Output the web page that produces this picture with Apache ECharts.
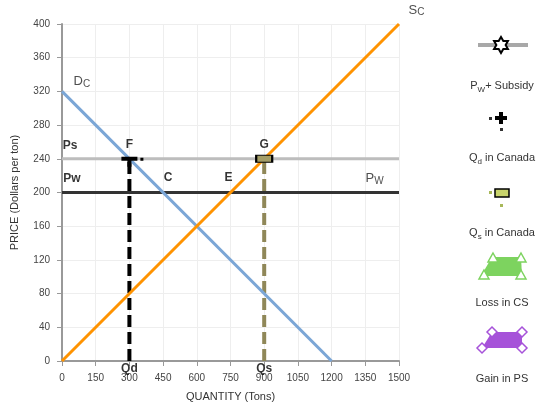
<!DOCTYPE html>
<html>
<head>
<meta charset="utf-8">
<script src="https://cdn.jsdelivr.net/npm/echarts@6/dist/echarts.min.js"></script>
<style>
  html, body { margin: 0; padding: 0; background: #fff; }
  #chart { width: 560px; height: 420px; }
</style>
</head>
<body>
<div id="chart"></div>
<script>
// data
const xTicks = [0, 150, 300, 450, 600, 750, 900, 1050, 1200, 1350, 1500];
const yTicks = [0, 40, 80, 120, 160, 200, 240, 280, 320, 360, 400];
const demand = [[0, 320], [1200, 0]];
const supply = [[0, 0], [1500, 400]];
const worldPrice = [[0, 200], [1500, 200]];
const subsidyPrice = [[0, 240], [1500, 240]];
const qdLine = [[300, 0], [300, 240]];
const qsLine = [[900, 0], [900, 240]];
// annotation points (data coords) and their text
const annoNames = ['Ps', 'F', 'Pw', 'C', 'E', 'G', 'Qd', 'Qs', 'Dc', 'Sc', 'PwR'];
const annoX = [0, 300, 0, 450, 750, 900, 300, 900, 0, 1500, 1400];
const annoY = [240, 240, 200, 200, 200, 240, 0, 0, 320, 400, 200];
const annoText = ['Ps', 'F', 'Pw', 'C', 'E', 'G', 'Qd', 'Qs', '{a|D}{s|C}', '{a|S}{s|C}', '{a|P}{s|W}'];

const chart = echarts.init(document.getElementById('chart'));

// label placement per annotation
const annoStyle = {
  Ps: { position: 'top', offset: [8, -2] },
  F: { position: 'top', offset: [0, -3] },
  Pw: { position: 'top', offset: [10, -2] },
  C: { position: 'top', offset: [5, -3] },
  E: { position: 'top', offset: [-2, -3] },
  G: { position: 'top', offset: [0, -3] },
  Qd: { position: 'bottom', offset: [0, -4] },
  Qs: { position: 'bottom', offset: [0, -4] },
  Dc: { position: 'right', offset: [6, -10], bold: false },
  Sc: { position: 'right', offset: [4, -14], bold: false },
  PwR: { position: 'top', offset: [-2, -1], bold: false }
};

const rich = {
  a: { fontSize: 13, color: '#222', lineHeight: 15, fontFamily: 'Liberation Sans' },
  s: { fontSize: 10, color: '#222', lineHeight: 15, verticalAlign: 'bottom', padding: [7, 0, 0, 0], fontFamily: 'Liberation Sans' }
};

const annoData = annoNames.map(function (n, i) {
  const st = annoStyle[n];
  return {
    value: [annoX[i], annoY[i]],
    label: {
      show: true,
      formatter: annoText[i],
      position: st.position,
      offset: st.offset,
      fontWeight: st.bold === false ? 'normal' : 'bold',
      fontSize: 12,
      color: '#000',
      fontFamily: 'Liberation Sans',
      rich: rich
    }
  };
});

function lineSeries(name, data, color, width, type, z) {
  return {
    name: name,
    type: 'line',
    data: data,
    symbol: 'none',
    z: z,
    lineStyle: { color: color, width: width, type: type || 'solid' },
    animation: false
  };
}

const qdSeries = lineSeries('Qd in Canada', qdLine, '#000', 4, [12, 5], 3);
qdSeries.markPoint = {
  symbol: 'path://M0,0 L16,0 L16,4 L10,4 L10,10 L6,10 L6,4 L0,4 Z M19,1 L22,1 L22,4 L19,4 Z',
  symbolSize: [22, 10],
  symbolOffset: [3, 3],
  itemStyle: { color: '#000' },
  label: { show: false },
  data: [{ coord: qdLine[1] }]
};

const qsSeries = lineSeries('Qs in Canada', qsLine, '#8F8758', 4, [12, 5], 3);
qsSeries.markPoint = {
  symbol: 'rect',
  symbolSize: [16, 7],
  itemStyle: { color: '#A39D67', borderColor: '#000', borderWidth: 1.5 },
  label: { show: false },
  data: [{ coord: qsLine[1] }]
};

const axisLabelStyle = { color: '#444', fontSize: 10, fontFamily: 'Liberation Sans', formatter: function (v) { return String(v); } };

// legend drawn by hand: icon above, text below
function star(cx, cy, r) {
  const pts = [];
  for (let i = 0; i < 12; i++) {
    const ang = Math.PI / 2 + i * Math.PI / 6;
    const rr = i % 2 === 0 ? r : r * 0.58;
    pts.push([cx + rr * Math.cos(ang), cy - rr * Math.sin(ang)]);
  }
  return pts;
}
function tri(cx, cy) {
  return { type: 'polygon', shape: { points: [[cx, cy - 5], [cx + 5, cy + 4], [cx - 5, cy + 4]] },
    style: { fill: '#fff', stroke: '#7DD35F', lineWidth: 1.5 } };
}
function dia(cx, cy) {
  return { type: 'polygon', shape: { points: [[cx, cy - 5], [cx + 5, cy], [cx, cy + 5], [cx - 5, cy]] },
    style: { fill: '#fff', stroke: '#A652D9', lineWidth: 1.5 } };
}
function legText(y, text) {
  return { type: 'text', x: 502, y: y, style: { text: text, align: 'center', verticalAlign: 'middle',
    fill: '#333', fontSize: 11, fontFamily: 'Liberation Sans', rich: {
      a: { fontSize: 11, fill: '#333', fontFamily: 'Liberation Sans' },
      s: { fontSize: 8, fill: '#333', fontFamily: 'Liberation Sans', verticalAlign: 'bottom', padding: [8, 0, 0, 0] }
    } } };
}

const legend = [
  { type: 'line', shape: { x1: 478, y1: 45, x2: 528, y2: 45 }, style: { stroke: '#A8A8A8', lineWidth: 4 } },
  { type: 'polygon', shape: { points: star(501, 45, 8) }, style: { fill: '#fff', stroke: '#000', lineWidth: 2 } },
  legText(86, '{a|P}{s|W}{a|+ Subsidy}'),
  { type: 'rect', shape: { x: 489, y: 117, width: 3, height: 3 }, style: { fill: '#333' } },
  { type: 'rect', shape: { x: 495, y: 116, width: 12, height: 4 }, style: { fill: '#000' } },
  { type: 'rect', shape: { x: 499, y: 112, width: 4, height: 12 }, style: { fill: '#000' } },
  { type: 'rect', shape: { x: 500, y: 128, width: 3, height: 3 }, style: { fill: '#333' } },
  legText(158, '{a|Q}{s|d}{a| in Canada}'),
  { type: 'rect', shape: { x: 489, y: 191, width: 3, height: 3 }, style: { fill: '#A8B85A' } },
  { type: 'rect', shape: { x: 495, y: 189, width: 14, height: 8 }, style: { fill: '#C9D46C', stroke: '#000', lineWidth: 1.5 } },
  { type: 'rect', shape: { x: 500, y: 204, width: 3, height: 3 }, style: { fill: '#A8B85A' } },
  legText(233, '{a|Q}{s|s}{a| in Canada}'),
  { type: 'polygon', shape: { points: [[492, 257], [521, 257], [522, 276], [481, 276]] }, style: { fill: '#7DD35F' } },
  tri(493, 258), tri(521, 258), tri(484, 275), tri(521, 275),
  legText(303, 'Loss in CS'),
  { type: 'polygon', shape: { points: [[492, 332], [522, 332], [522, 348], [482, 348]] }, style: { fill: '#A652D9' } },
  dia(492, 332), dia(522, 332), dia(482, 348), dia(522, 348),
  legText(379, 'Gain in PS')
];

chart.setOption({
  animation: false,
  backgroundColor: '#fff',
  grid: { left: 62, top: 24, right: 161, bottom: 59, outerBoundsMode: 'none', containLabel: false },
  xAxis: {
    type: 'value', min: xTicks[0], max: xTicks[xTicks.length - 1], interval: xTicks[1] - xTicks[0],
    name: 'QUANTITY (Tons)', nameLocation: 'middle', nameGap: 30,
    nameTextStyle: { color: '#333', fontSize: 11, fontFamily: 'Liberation Sans' },
    axisLine: { lineStyle: { color: '#999', width: 2 } },
    axisTick: { show: true, length: 5, lineStyle: { color: '#999' } },
    axisLabel: Object.assign({ margin: 12 }, axisLabelStyle),
    splitLine: { show: true, lineStyle: { color: '#EEEEEE' } }
  },
  yAxis: {
    type: 'value', min: yTicks[0], max: yTicks[yTicks.length - 1], interval: yTicks[1] - yTicks[0],
    name: 'PRICE (Dollars per ton)', nameLocation: 'middle', nameGap: 42,
    nameTextStyle: { color: '#333', fontSize: 11, fontFamily: 'Liberation Sans' },
    axisLine: { show: true, lineStyle: { color: '#999', width: 2 } },
    axisTick: { show: true, length: 5, lineStyle: { color: '#999' } },
    axisLabel: Object.assign({ margin: 12 }, axisLabelStyle),
    splitLine: { show: true, lineStyle: { color: '#EEEEEE' } }
  },
  series: [
    lineSeries('Pw + Subsidy', subsidyPrice, '#BDBDBD', 3, 'solid', 2),
    lineSeries('Pw', worldPrice, '#333', 3, 'solid', 2),
    qdSeries,
    qsSeries,
    lineSeries('Dc', demand, '#7BA6D6', 3, 'solid', 4),
    lineSeries('Sc', supply, '#FF9300', 3, 'solid', 4),
    {
      type: 'scatter', data: annoData, symbolSize: 1, z: 6, silent: true,
      itemStyle: { color: 'rgba(0,0,0,0)' }, animation: false
    }
  ],
  graphic: legend
});
</script>
</body>
</html>
